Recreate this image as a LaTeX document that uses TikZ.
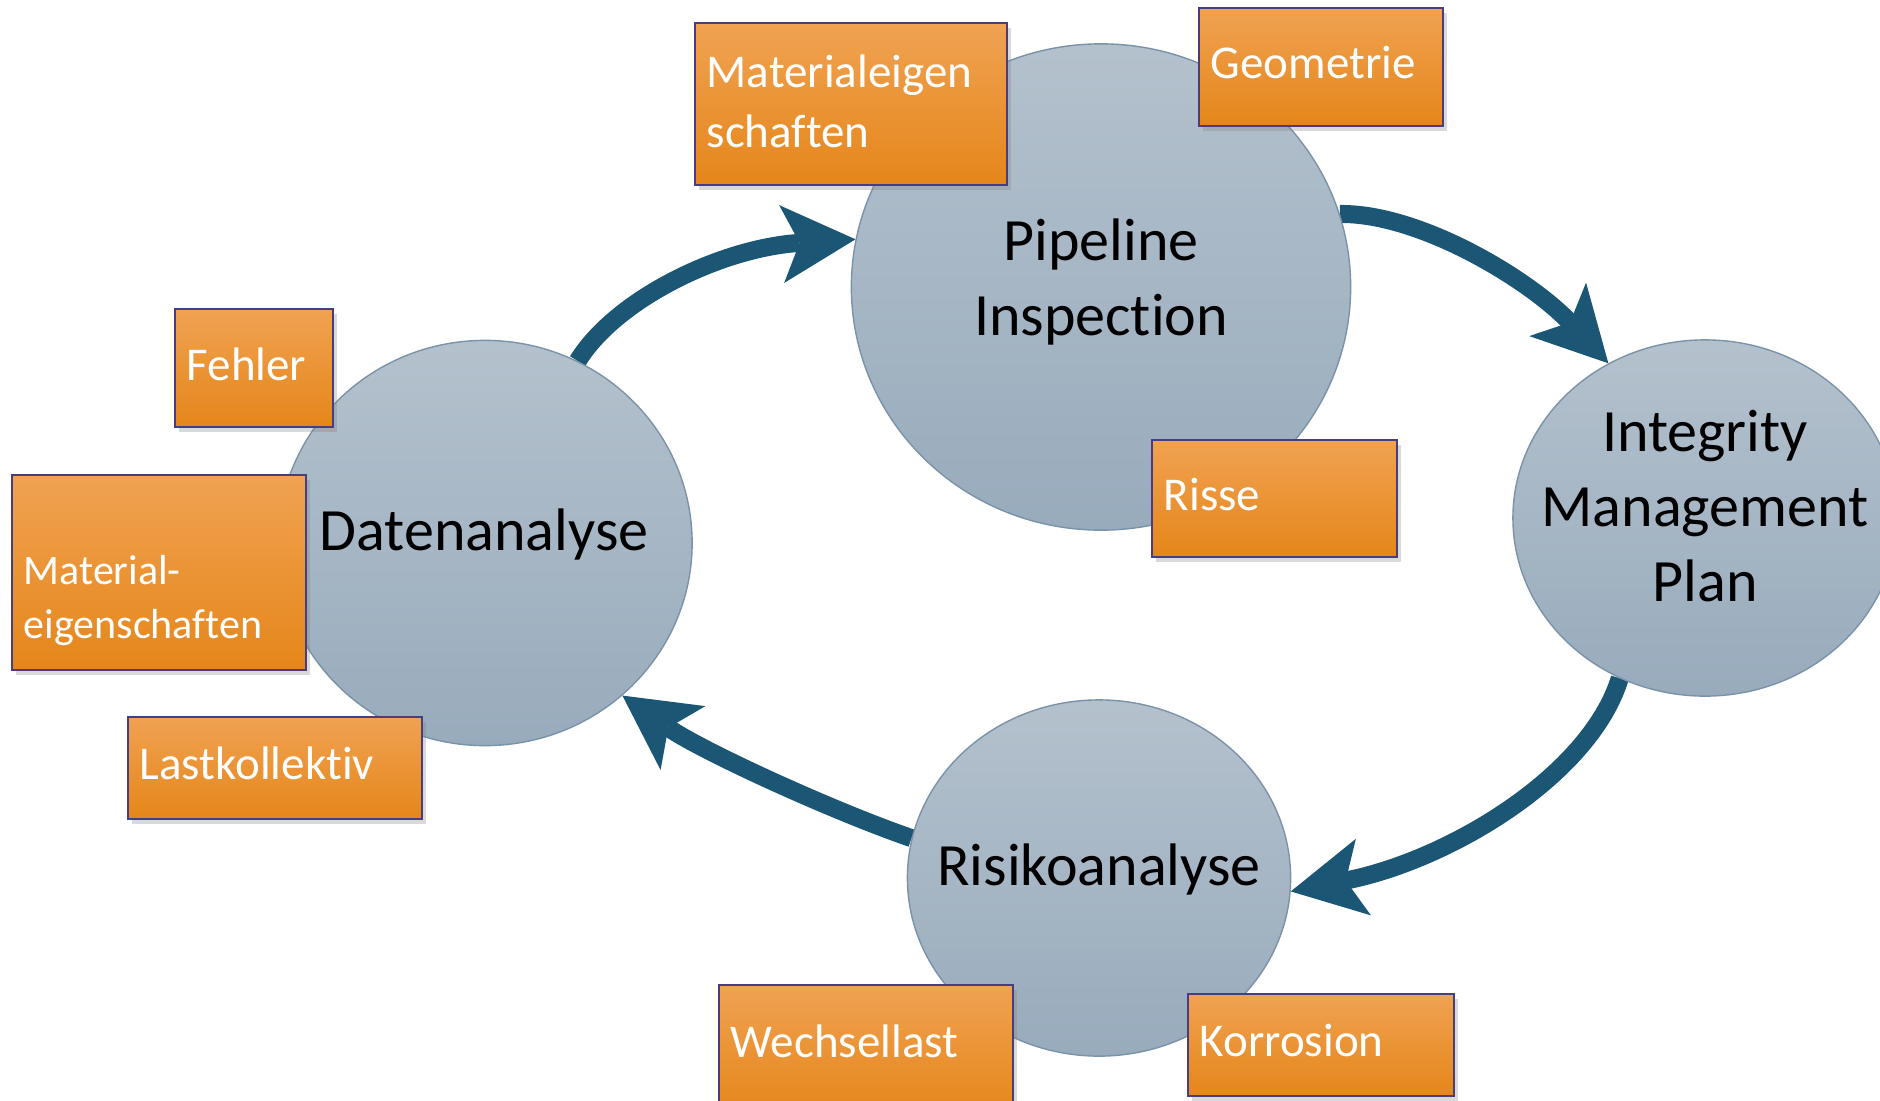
\documentclass[tikz,border=0pt]{standalone}
\usepackage{fontspec}
\setmainfont[Ligatures=NoCommon]{Carlito}
\usetikzlibrary{shapes.geometric,arrows.meta,shadows,backgrounds}
\definecolor{arrowblue}{HTML}{1B5675}
\definecolor{circtop}{HTML}{B4C1CD}
\definecolor{circbot}{HTML}{98ABBC}
\definecolor{circline}{HTML}{7A93A8}
\definecolor{otop}{HTML}{F0A252}
\definecolor{omid}{HTML}{F5961F}
\definecolor{obot}{HTML}{E5861A}
\definecolor{oline}{HTML}{463E7E}
\begin{document}
\begin{tikzpicture}[x=0.01cm,y=-0.01cm,
  stage/.style={ellipse, draw=circline, line width=0.4pt, top color=circtop, bottom color=circbot, inner sep=0pt},
  stagetext/.style={font=\fontsize{17.07}{21.2}\selectfont, align=center, text=black, anchor=base, inner sep=0pt},
  factor/.style={rectangle, draw=oline, line width=0.5pt, top color=otop, middle color=omid, bottom color=obot,
    drop shadow={shadow xshift=1.2pt, shadow yshift=-1.4pt, opacity=0.3}, anchor=north west, inner sep=0pt},
  factortext/.style={font=\fontsize{13.37}{16.9}\selectfont, text=white, align=left, anchor=base west, inner sep=0pt},
  smallfactortext/.style={factortext, font=\fontsize{11.95}{15.1}\selectfont},
  flow/.style={draw=arrowblue, line width=0.18cm, -{Stealth[length=0.74cm, width=0.78cm, inset=0.18cm, line width=0pt]}}
]
\clip (0,0) rectangle (1880,1100);

% stages
\node[stage, minimum width=4.99cm, minimum height=4.86cm] (pi) at (1101,287) {};
\node[stage, minimum width=4.14cm, minimum height=4.05cm] (da) at (485,543) {};
\node[stage, minimum width=3.84cm, minimum height=3.56cm] (imp) at (1705,518) {};
\node[stage, minimum width=3.83cm, minimum height=3.56cm] (ri) at (1099,878) {};

% multi-line nodes: base anchor is the baseline of the last line
\node[stagetext] (pit) at (1101,335) {Pipeline\\Inspection};
\node[stagetext] (dat) at (484,550) {Datenanalyse};
\node[stagetext] (impt) at (1705,601) {Integrity\\Management\\Plan};
\node[stagetext] (rit) at (1099,885) {Risikoanalyse};

% cycle arrows
\begin{scope}[on background layer]
\draw[flow] (da.63) .. controls (615,300) and (720,248) .. (pi.169);
\draw[flow] (pi.17) .. controls (1420,213) and (1530,280) .. (imp.122);
\draw[flow] (imp.242) .. controls (1590,775) and (1450,860) .. (ri.-4);
\draw[flow] (ri.168) .. controls (830,810) and (700,750) .. (da.-48);
\end{scope}

% factor boxes
\node[factor, minimum width=3.12cm, minimum height=1.62cm] (mat1) at (694,22) {};
\node[factor, minimum width=2.44cm, minimum height=1.18cm] (geo) at (1198,7) {};
\node[factor, minimum width=2.45cm, minimum height=1.17cm] (risse) at (1151,439) {};
\node[factor, minimum width=1.58cm, minimum height=1.18cm] (fehler) at (174,308) {};
\node[factor, minimum width=2.94cm, minimum height=1.95cm] (mat2) at (11,474) {};
\node[factor, minimum width=2.94cm, minimum height=1.02cm] (last) at (127,716) {};
\node[factor, minimum width=2.94cm, minimum height=1.30cm] (wech) at (718,984) {};
\node[factor, minimum width=2.66cm, minimum height=1.02cm] (korr) at (1187,993) {};

\node[factortext] (mat1t) at (706,147) {Materialeigen\\schaften};
\node[factortext] (geot) at (1210,78) {Geometrie};
\node[factortext] (risset) at (1163,510) {Risse};
\node[factortext] (fehlert) at (186,380) {Fehler};
\node[smallfactortext] (mat2t) at (23,638) {Material-\\eigenschaften};
\node[factortext] (lastt) at (139,779) {Lastkollektiv};
\node[factortext] (wecht) at (730,1057) {Wechsellast};
\node[factortext] (korrt) at (1199,1056) {Korrosion};
\end{tikzpicture}
\end{document}
